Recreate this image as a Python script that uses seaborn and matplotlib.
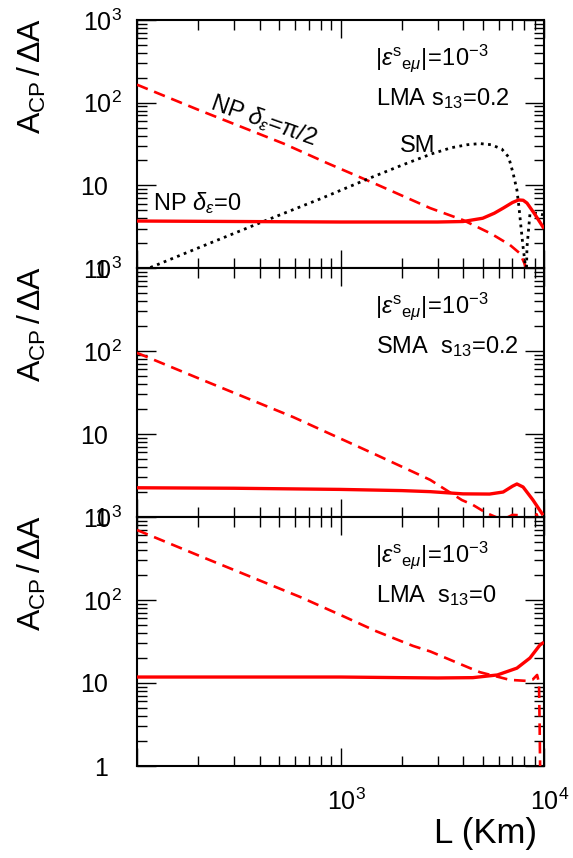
import matplotlib
matplotlib.use("Agg")
import matplotlib.pyplot as plt
from matplotlib.transforms import ScaledTranslation
from matplotlib.ticker import LogLocator, NullFormatter
import seaborn as sns
import pandas as pd

# ---------------- data ----------------
# Top panel: LMA s13=0.2
top_L_np0 = [100, 1000, 3000, 4000, 5000, 5700, 6300, 7000, 7500, 7900, 8250, 9000, 10000]
top_np0 = [3.7, 3.6, 3.6, 3.65, 4.0, 4.6, 5.3, 6.2, 6.65, 6.6, 6.1, 4.5, 3.0]
top_L_np90 = [100, 200, 525, 859, 1500, 2760, 4000, 5500, 6800, 7620, 8000, 8300, 8500]
top_np90 = [165, 82, 32, 18.6, 10.3, 5.3, 3.8, 2.6, 1.9, 1.5, 1.15, 0.9, 0.5]
top_L_sm = [100, 200, 400, 800, 1400, 2000, 2800, 3500, 4200, 4840, 5500, 6200, 6700,
            7050, 7360, 7530, 7710, 7890, 8070, 8150, 8250, 8530, 9140, 9890]
top_sm = [0.87, 1.75, 3.5, 6.9, 12.3, 17.5, 24, 28.5, 31, 32, 31, 27.5, 22,
          14, 8.8, 5.5, 3.1, 1.8, 1.15, 0.5, 1.8, 4.5, 4.6, 4.4]

# Middle panel: SMA s13=0.2
mid_L_np0 = [100, 300, 1000, 2000, 2760, 4000, 5400, 6300, 7000, 7360, 7890, 8830, 9900]
mid_np0 = [2.25, 2.22, 2.15, 2.08, 2.02, 1.9, 1.89, 2.0, 2.35, 2.5, 2.3, 1.6, 1.05]
mid_L_np90 = [100, 200, 585, 1000, 1500, 2270, 2760, 3950, 4470, 5200, 5900, 6500,
              7000, 7600, 8100, 8800, 9200, 9600]
mid_np90 = [95, 47, 16, 8.8, 5.6, 3.5, 2.8, 1.6, 1.4, 1.12, 0.98, 0.97,
            1.06, 1.05, 0.85, 0.9, 1.08, 0.8]

# Bottom panel: LMA s13=0
bot_L_np0 = [100, 1000, 2000, 3000, 4470, 5900, 7360, 8530, 9550, 10000]
bot_np0 = [11.8, 11.8, 11.6, 11.5, 11.6, 12.5, 15.1, 20, 28.7, 31]
bot_L_np90 = [100, 200, 632, 1000, 1500, 2270, 2760, 4330, 4840, 6800, 8250, 8800,
              9250, 9450, 9520, 9560, 9600]
bot_np90 = [697, 345, 109, 66, 42, 28, 24, 15.1, 13.5, 10.9, 10.6, 11,
            12.5, 10, 3, 1.2, 0.5]

y_ticks = [1, 10, 100, 1000]
y_ticklabels = ["1", "10", "$10^{2}$", "$10^{3}$"]
x_ticks = [100, 1000, 10000]
x_ticklabels = ["", "$10^{3}$", "$10^{4}$"]

eps_label = r"$|\mathit{\varepsilon}^{s}{}_{e\mathit{\mu}}|\!=\!10^{-3}$"
panel_labels = [r"LMA s$_{13}$=0.2", r"SMA  s$_{13}$=0.2", r"LMA  s$_{13}$=0"]

# ---------------- style ----------------
sns.set_theme(style="ticks")
plt.rcParams["font.family"] = ["Liberation Sans", "DejaVu Sans"]
plt.rcParams["mathtext.fontset"] = "custom"
plt.rcParams["mathtext.rm"] = "Liberation Sans"
plt.rcParams["mathtext.it"] = "Liberation Sans:italic"
plt.rcParams["mathtext.bf"] = "Liberation Sans:bold"
plt.rcParams["mathtext.sf"] = "Liberation Sans"
plt.rcParams["mathtext.default"] = "regular"
plt.rcParams["text.color"] = "black"
plt.rcParams["axes.labelcolor"] = "black"
plt.rcParams["xtick.color"] = "black"
plt.rcParams["ytick.color"] = "black"
plt.rcParams["lines.solid_capstyle"] = "butt"
plt.rcParams["lines.dash_capstyle"] = "butt"

fig = plt.figure(figsize=(5.73, 8.58), dpi=100)
fig.patch.set_facecolor("white")

W, H = 573.0, 858.0
left, right = 137, 544
panel_px = [(20, 268), (268, 517), (517, 766)]
axes = []
for (t, b) in panel_px:
    ax = fig.add_axes([left / W, 1 - b / H, (right - left) / W, (b - t) / H])
    axes.append(ax)

RED = "#ff0000"


def draw_line(ax, xs, ys, color, lw, dashes=None, z=3):
    df = pd.DataFrame({"L": xs, "A": ys})
    n0 = len(ax.lines)
    sns.lineplot(data=df, x="L", y="A", ax=ax, color=color, linewidth=lw,
                 estimator=None, errorbar=None, sort=False, zorder=z)
    for ln in ax.lines[n0:]:
        if dashes is not None:
            ln.set_dashes(dashes)
            ln.set_dash_capstyle("butt")


series = [
    (top_L_np0, top_np0, top_L_np90, top_np90),
    (mid_L_np0, mid_np0, mid_L_np90, mid_np90),
    (bot_L_np0, bot_np0, bot_L_np90, bot_np90),
]

for i, ax in enumerate(axes):
    L0, v0, L90, v90 = series[i]
    ax.set_xscale("log")
    ax.set_yscale("log")
    draw_line(ax, L90, v90, RED, 1.9, dashes=(4.4, 2.6), z=3)
    if i == 0:
        draw_line(ax, top_L_sm, top_sm, "black", 2.0, dashes=(1.0, 1.6), z=3)
    draw_line(ax, L0, v0, RED, 2.4, z=4)

    ax.set_xlim(100, 10000)
    ax.set_ylim(1, 1000)
    ax.set_xlabel("")
    ax.set_ylabel("")
    for sp in ax.spines.values():
        sp.set_visible(True)
        sp.set_linewidth(1.5)
        sp.set_color("black")

    ax.set_yticks(y_ticks, labels=y_ticklabels)
    ax.yaxis.set_minor_locator(LogLocator(base=10, subs=range(2, 10), numticks=20))
    ax.yaxis.set_minor_formatter(NullFormatter())
    ax.set_xticks(x_ticks, labels=(x_ticklabels if i == 2 else ["", "", ""]))
    ax.xaxis.set_minor_locator(LogLocator(base=10, subs=range(2, 10), numticks=20))
    ax.xaxis.set_minor_formatter(NullFormatter())

    ax.tick_params(axis="both", which="both", direction="in", top=True, right=True,
                   color="black", labelcolor="black")
    ax.tick_params(axis="y", which="major", length=14, width=1.0, pad=21, labelsize=18)
    ax.tick_params(axis="y", which="minor", length=7, width=1.0)
    ax.tick_params(axis="x", which="major", length=13, width=1.0, pad=16, labelsize=18)
    ax.tick_params(axis="x", which="minor", length=7, width=1.0)

    # keep the mantissa "10" aligned, exponents stick out
    for tk, lab in zip(ax.yaxis.get_major_ticks(), y_ticklabels):
        if "^" in lab:
            tk.label1.set_transform(tk.label1.get_transform() +
                                    ScaledTranslation(14 / 100, 0, fig.dpi_scale_trans))
    if i == 2:
        for tk, lab in zip(ax.xaxis.get_major_ticks(), x_ticklabels):
            if "^" in lab:
                tk.label1.set_transform(tk.label1.get_transform() +
                                        ScaledTranslation(6 / 100, 0, fig.dpi_scale_trans))

    ax.set_ylabel(r"$A_{CP}\,/\,\Delta A$", fontsize=23, rotation=90,
                  ha="center", va="center")
    ax.yaxis.set_label_coords(-0.258, 0.775)

    ax.text(0.585, 0.82, eps_label, transform=ax.transAxes, fontsize=17,
            ha="left", va="baseline")
    ax.text(0.587, 0.658, panel_labels[i], transform=ax.transAxes, fontsize=17,
            ha="left", va="baseline")

# labels on top panel curves
axes[0].text(0.31, 0.597, r"NP $\mathit{\delta}_{\mathit{\varepsilon}}$=$\pi$/2",
             transform=axes[0].transAxes, fontsize=17, rotation=-19.5,
             rotation_mode="anchor", ha="center", va="center")
axes[0].text(0.69, 0.492, "SM", transform=axes[0].transAxes, fontsize=17,
             ha="center", va="center")
axes[0].text(0.039, 0.234, r"NP $\mathit{\delta}_{\mathit{\varepsilon}}$=0",
             transform=axes[0].transAxes, fontsize=17, ha="left", va="baseline")

axes[2].set_xlabel("L (Km)", fontsize=25, ha="right", va="baseline")
axes[2].xaxis.set_label_coords(0.983, -0.309)

fig.savefig("out.png", dpi=100, facecolor="white")
